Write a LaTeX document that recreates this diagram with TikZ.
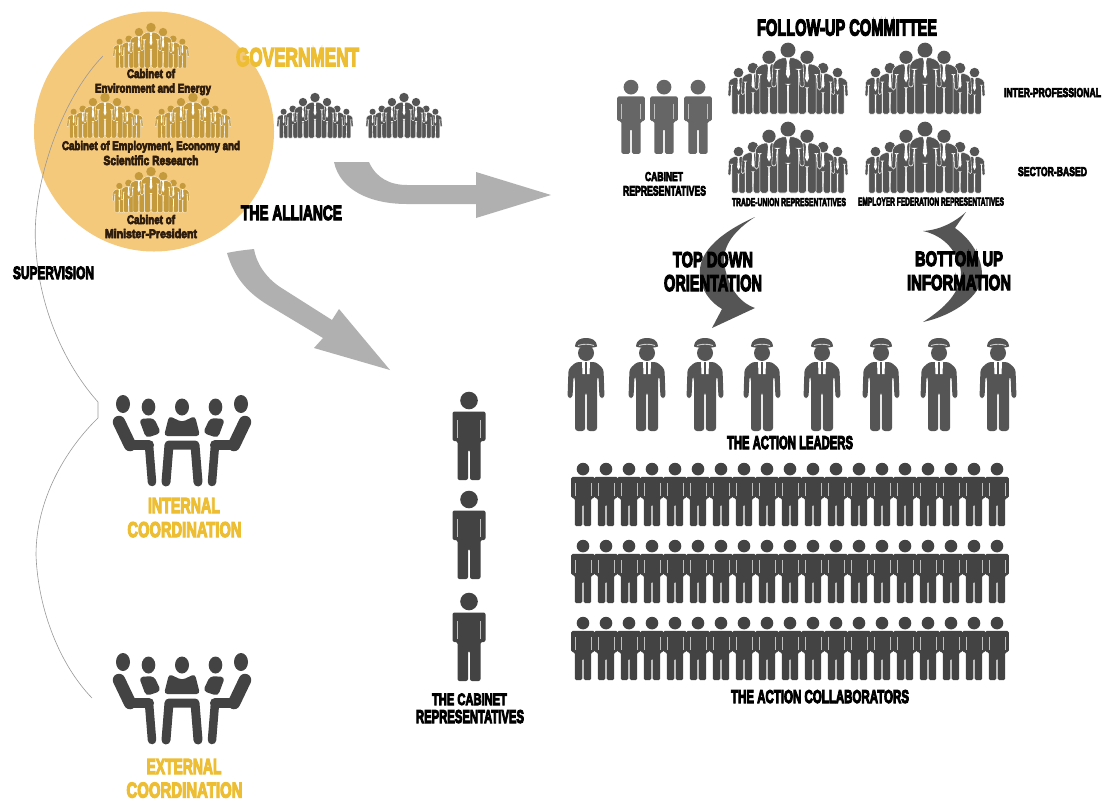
\documentclass[tikz,border=0pt]{standalone}
\usepackage{fontspec}
\usepackage{graphicx}
\setmainfont{Liberation Sans}[UprightFont=* Bold,FakeBold=6]
\definecolor{goldc}{HTML}{C49A3C}
\definecolor{circ}{HTML}{F4C97C}
\definecolor{goldt}{HTML}{EDBE33}
\definecolor{brownt}{HTML}{2E1C0C}
\definecolor{arrowg}{HTML}{B0B0B0}
\definecolor{dk}{HTML}{434343}
\definecolor{md}{HTML}{555555}
\definecolor{lt}{HTML}{666666}
\tikzset{
  txt/.style={anchor=base,inner sep=0pt,outer sep=0pt},
  bigarrow/.style={fill=arrowg},
  crescent/.style={fill=md},
  superline/.style={draw=black!40,line width=0.6pt},
  place/.style n args={3}{transform canvas={shift={(#1,#2)},scale=#3}}
}
\newcommand{\Tx}[7][black]{\node[txt,text=#1] (#2) at (#3,#4) {\resizebox{#5pt}{#6pt}{#7}};}
% plain person, 88 tall, origin top centre
\newcommand{\Person}[4]{\begin{scope}[place={#1}{#2}{#3}]
  \fill[#4] (0,8.5) circle (8.8);
  \fill[#4,rounded corners=2pt] (-16.5,19.5)--(16.5,19.5)--(16.5,49)--(11.5,49)--(11.5,88)--(1,88)--(1,58)--(-1,58)--(-1,88)--(-11.5,88)--(-11.5,49)--(-16.5,49)--cycle;
  \draw[black!25,line width=0.5pt] (-11.5,28)--(-11.5,46) (11.5,28)--(11.5,46);
\end{scope}}
% person with tie, 100 tall
\newcommand{\Man}[4]{\begin{scope}[place={#1}{#2}{#3}]
  \fill[#4] (0,10) circle (10.5);
  \path[fill=#4,draw=white,line width=0.8pt,rounded corners=3pt] (-11,21)--(11,21)--(21,28)--(23,62)--(17,62)--(15.5,37)--(14.5,37)--(14.5,100)--(1,100)--(.7,58)--(-.7,58)--(-1,100)--(-14.5,100)--(-14.5,37)--(-15.5,37)--(-17,62)--(-23,62)--(-21,28)--cycle;
  \fill[white] (-3,21)--(3,21)--(1.5,27)--(3,44)--(0,50)--(-3,44)--(-1.5,27)--cycle;
\end{scope}}
% group of seven, 71 tall, 121 wide
\newcommand{\Group}[4]{\begin{scope}[place={#1}{#2}{#3}]
  \Man{-49.5}{25}{.46}{#4}\Man{49.5}{25}{.46}{#4}
  \Man{-35}{20}{.51}{#4}\Man{35}{20}{.51}{#4}
  \Man{-19}{8}{.63}{#4}\Man{19}{8}{.63}{#4}
  \Man{0}{0}{.71}{#4}
\end{scope}}
% action leader with cap, 93 tall
\newcommand{\Leader}[2]{\begin{scope}[place={#1}{#2}{1}]
  \fill[md] (0,15) circle (8);
  \fill[md] (-11,8.5)..controls (-10.5,1.5) and (-5,0) .. (0,0) .. controls (5,0) and (10.5,1.5) .. (11,8.5) .. controls (6,10.5) and (-6,10.5) .. (-11,8.5)--cycle;
  \draw[black!20,line width=0.9pt] (-8,7.5) .. controls (-3,5.8) and (3,5.8) .. (8,7.5);
  \fill[md,rounded corners=3pt] (-10,24)--(10,24)--(17.5,31)--(18.5,60)--(13.5,60)--(12.5,38)--(11,40)--(11,93)--(.8,93)--(.8,54)--(-.8,54)--(-.8,93)--(-11,93)--(-11,40)--(-12.5,38)--(-13.5,60)--(-18.5,60)--(-17.5,31)--cycle;
  \fill[white] (-4,24)--(4,24)--(3.5,36)--(-3.5,36)--cycle;
  \fill[md] (-1.4,24)--(1.4,24)--(1.4,37)--(-1.4,37)--cycle;
\end{scope}}
% meeting of five
\newcommand{\Meeting}[2]{\begin{scope}[place={#1}{#2}{1}]
  \foreach \s in {-1,1}{
    \fill[dk] (\s*59,9) ellipse (7 and 9);
    \fill[dk] (\s*33.5,12) ellipse (6.8 and 8.5);
    \draw[dk,line width=12.5pt,line cap=round,line join=round] (\s*63,27)--(\s*52,50);
    \draw[dk,line width=10pt,line cap=round,line join=round] (\s*52,50)--(\s*33,50);
    \draw[dk,line width=8.5pt,line cap=round,line join=round] (\s*33,50)--(\s*30,87);
    \fill[dk,rounded corners=4pt] (\s*43,24)--(\s*28,23)--(\s*21,38)--(\s*36,43)--cycle;
  }
  \fill[dk] (0,12) ellipse (7 and 8.5);
  \fill[dk,rounded corners=3.5pt] (-13,21)--(0,27)--(13,21)--(18,41)--(-18,41)--cycle;
  \draw[dk,line width=9pt,line cap=round,line join=round] (-16,87)--(-13,50)--(13,50)--(16,87);
\end{scope}}
\begin{document}
\begin{tikzpicture}[x=1pt,y=-1pt]
\useasboundingbox (0,0) rectangle (1102,801);
\fill[white] (0,0) rectangle (1102,801);
% government circle
\fill[circ] (154,131.5) circle (120);
\Group{151}{23}{.634}{goldc}
\Group{105}{93}{.634}{goldc}
\Group{193}{93}{.634}{goldc}
\Group{151}{167}{.64}{goldc}
\Group{315}{93}{.634}{md}
\Group{404}{93}{.634}{md}
% supervision line
\draw[superline] (103,56) .. controls (60,100) and (30,190) .. (36,250) .. controls (40,310) and (65,365) .. (98,402) -- (98,418) .. controls (65,450) and (36,500) .. (36,555) .. controls (38,610) and (60,665) .. (92,698);
% big arrows
\fill[bigarrow] (334,162)--(369,162) .. controls (376,178) and (390,185) .. (407,185) -- (476,185)--(476,172)--(551,195)--(476,218)--(476,204)--(407,204) .. controls (370,204) and (340,190) .. (334,162)--cycle;
\fill[bigarrow] (227,253) .. controls (236,251) and (245,250) .. (254,249) .. controls (256,262) and (265,277) .. (280,287) -- (332,320)--(339,309)--(390,370)--(314,348)--(323,338)--(273,308) .. controls (250,295) and (235,280) .. (227,253)--cycle;
% follow-up committee
\Person{631}{80}{.84}{lt}\Person{664}{80}{.84}{lt}\Person{698}{80}{.84}{lt}
\Group{788}{43}{1}{md}\Group{925}{43}{1}{md}
\Group{788}{122}{1}{md}\Group{925}{122}{1}{md}
% curved arrows
\fill[crescent] (755,217) .. controls (715,235) and (698,255) .. (700,275) .. controls (701,290) and (710,302) .. (722,309)--(712,328)--(755,308) .. controls (738,302) and (727,285) .. (724,262) .. controls (723,245) and (735,230) .. (755,217)--cycle;
\fill[crescent] (966,212)--(955,228) .. controls (972,240) and (982,258) .. (982,275) .. controls (982,295) and (955,315) .. (923,322) .. controls (945,308) and (961,292) .. (961,272) .. controls (958,252) and (945,236) .. (923,231) .. controls (940,230) and (955,222) .. (966,212)--cycle;
% action leaders
\foreach \xa in {586,647,705,762,822,881,939,998}{\Leader{\xa}{338}}
% collaborators
\foreach \ya in {463,540,617}{\foreach \n in {0,...,18}{\pgfmathsetmacro{\xb}{583+23*\n}\Person{\xb}{\ya}{.716}{dk}}}
% cabinet representatives
\Person{469}{392}{1}{dk}\Person{469}{491}{1}{dk}\Person{469}{593}{1}{dk}
% meetings
\Meeting{182}{395}\Meeting{182}{653}
% text
\Tx[goldt]{tgov}{297.5}{66}{123}{18}{GOVERNMENT}
\Tx{talli}{291.5}{220}{101}{14.5}{THE ALLIANCE}
\Tx{tsup}{53.5}{279}{81}{12.5}{SUPERVISION}
\Tx[brownt]{tc1}{151}{78}{48}{9}{Cabinet of}
\Tx[brownt]{tc1b}{153}{92.5}{116}{9}{Environment and Energy}
\Tx[brownt]{tc2}{151}{150}{178}{9}{Cabinet of Employment, Economy and}
\Tx[brownt]{tc2b}{151}{165}{95}{9.5}{Scientific Research}
\Tx[brownt]{tc3}{151}{224}{48}{9}{Cabinet of}
\Tx[brownt]{tc3b}{151}{238}{92}{9}{Minister-President}
\Tx{tfol}{847}{35.5}{180}{16}{FOLLOW-UP COMMITTEE}
\Tx{tint}{1052.5}{97}{97}{9}{INTER-PROFESSIONAL}
\Tx{tsec}{1052.5}{176}{69}{9}{SECTOR-BASED}
\Tx{tcab}{664}{181}{38}{9}{CABINET}
\Tx{trep}{664.5}{195.5}{83}{9.5}{REPRESENTATIVES}
\Tx{ttra}{789}{206}{114}{8}{TRADE-UNION REPRESENTATIVES}
\Tx{temp}{931}{205.5}{146}{8}{EMPLOYER FEDERATION REPRESENTATIVES}
\Tx{ttop}{713}{267}{80}{15}{TOP DOWN}
\Tx{tori}{713}{291}{98}{16}{ORIENTATION}
\Tx{tbot}{959}{266}{88}{14.5}{BOTTOM UP}
\Tx{tinf}{959}{290}{104}{15}{INFORMATION}
\Tx{tlea}{790}{449}{126}{13}{THE ACTION LEADERS}
\Tx{tcol}{820}{703}{178}{13}{THE ACTION COLLABORATORS}
\Tx{tcr}{469.5}{705}{75}{11.5}{THE CABINET}
\Tx{tcrb}{470}{723}{108}{13}{REPRESENTATIVES}
\Tx[goldt]{tin}{184}{513}{72}{15}{INTERNAL}
\Tx[goldt]{tinb}{184.5}{537}{114}{15}{COORDINATION}
\Tx[goldt]{tex}{184}{774}{75}{15}{EXTERNAL}
\Tx[goldt]{texb}{184.5}{797.5}{116}{15}{COORDINATION}
\end{tikzpicture}
\end{document}
